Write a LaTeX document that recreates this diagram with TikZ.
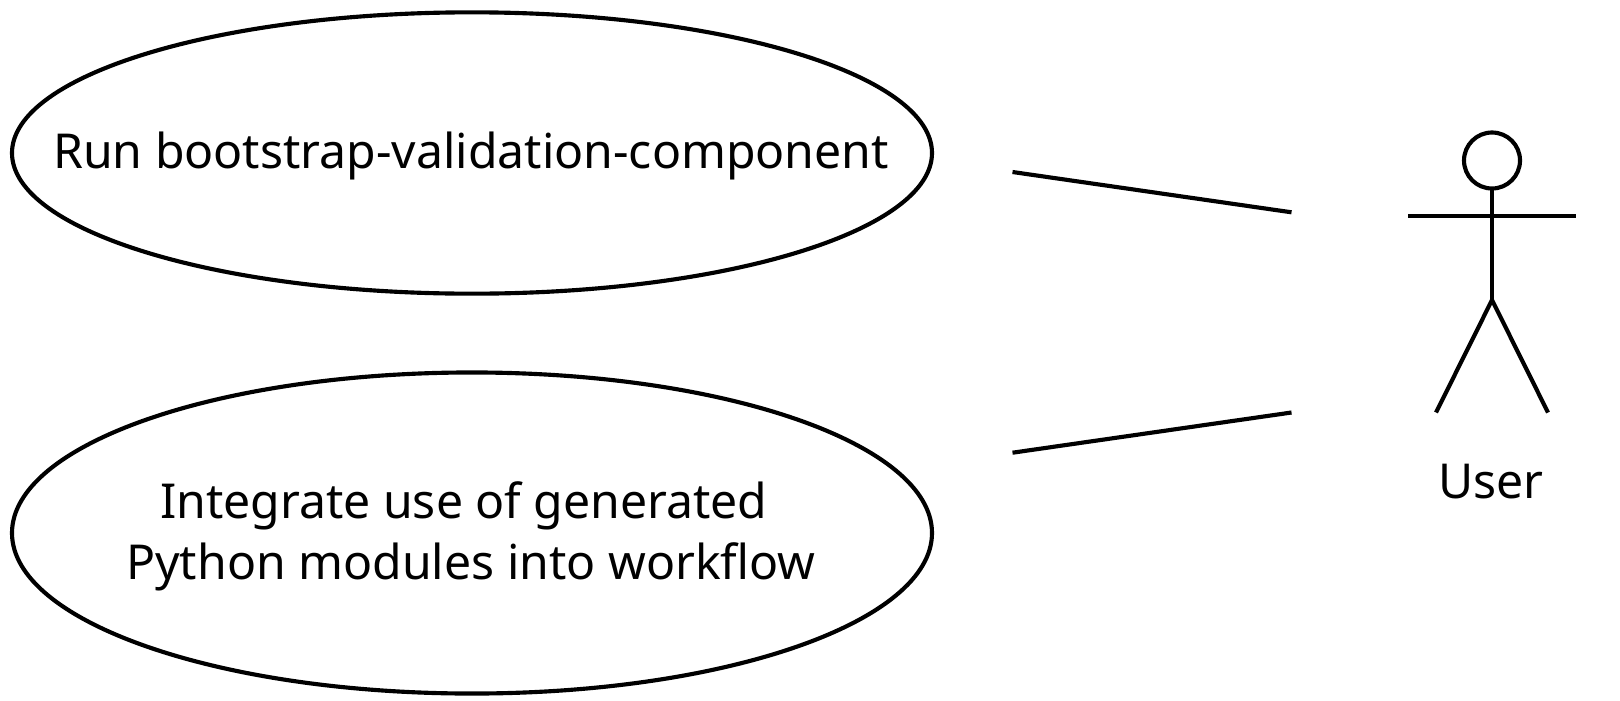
\documentclass[tikz,border=0pt]{standalone}
\usepackage{fontspec}
\setmainfont{Noto Sans}
\usetikzlibrary{shapes.geometric}
\tikzset{
  x=0.75pt,y=-0.75pt,
  usecase/.style={ellipse,draw=black,line width=3.1pt,inner sep=0pt,outer sep=0pt},
  stroke/.style={draw=black,line width=3.1pt},
  label/.style={inner sep=0pt,outer sep=0pt,align=center,font=\fontsize{36.1pt}{45.6pt}\selectfont}
}
\begin{document}
\begin{tikzpicture}
\useasboundingbox (0,0) rectangle (1620,700);
\node[usecase,minimum width=690pt,minimum height=211pt] (uc1) at (472,153) {};
\node[label] (uc1text) at (471,156) {Run bootstrap-validation-component};
\node[usecase,minimum width=690pt,minimum height=240.8pt] (uc2) at (472,533) {};
\node[label] (uc2text) at (471,536) {Integrate use of generated\kern10.8pt\\Python modules into workflow};
\coordinate (c1a) at (1012.5,172);
\coordinate (c1b) at (1291.5,212.3);
\coordinate (c2a) at (1012.5,452.7);
\coordinate (c2b) at (1291.5,412.5);
\draw[stroke] (c1a) -- (c1b);
\draw[stroke] (c2a) -- (c2b);
\node[circle,stroke,minimum size=42pt,inner sep=0pt,outer sep=0pt] (head) at (1492,160.5) {};
\coordinate (hip) at (1492,300);
\coordinate (armL) at (1408,216);
\coordinate (armR) at (1576,216);
\coordinate (legL) at (1436,412.5);
\coordinate (legR) at (1548,412.5);
\draw[stroke] (head.south) -- (hip);
\draw[stroke] (armL) -- (armR);
\draw[stroke] (legL) -- (hip) -- (legR);
\node[label] (user) at (1491,482) {User};
\end{tikzpicture}
\end{document}
